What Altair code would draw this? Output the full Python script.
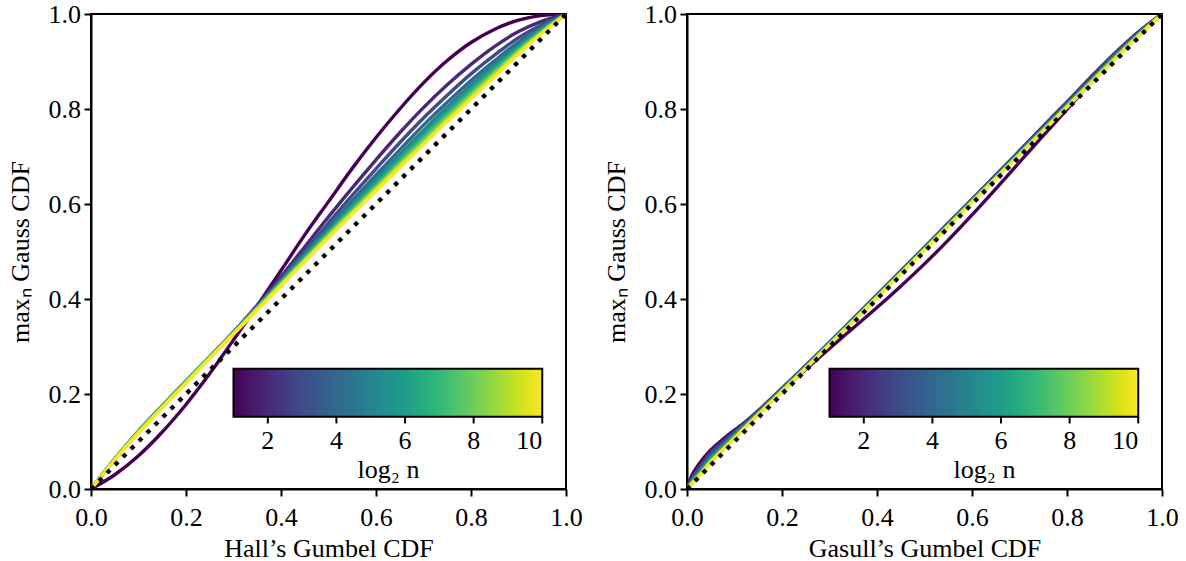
import altair as alt
import pandas as pd

# log2(n) for n = 2, 4, ..., 1024
log2n = [1, 2, 3, 4, 5, 6, 7, 8, 9, 10]

# ---- Left panel: Hall's Gumbel CDF (x) vs max_n Gauss CDF (y) ----
hall_x = [0, .05, .1, .15, .2, .25, .3, .35, .4, .45, .5, .55, .6, .65, .7, .75, .8, .85, .9, .95, 1]
hall_n2 = [0, .030, .070, .120, .178, .243, .314, .386, .460, .535, .605, .675, .740, .800, .855, .902, .940, .968, .987, .997, 1]
hall_n4 = [0, .062, .120, .173, .225, .277, .330, .387, .447, .510, .573, .634, .693, .750, .803, .851, .894, .932, .963, .985, 1]
hall_n8 = [0, .063, .121, .174, .226, .278, .330, .385, .442, .501, .560, .618, .674, .729, .781, .829, .874, .914, .950, .978, 1]
hall_n16 = [0, .063, .122, .175, .227, .278, .330, .384, .439, .496, .552, .607, .661, .714, .766, .814, .860, .902, .941, .973, 1]
hall_n32 = [0, .063, .122, .175, .227, .278, .330, .383, .437, .492, .546, .600, .652, .704, .755, .804, .851, .895, .935, .970, 1]
hall_n64 = [0, .063, .121, .175, .227, .278, .329, .382, .435, .489, .542, .594, .645, .697, .747, .796, .843, .888, .930, .967, 1]
hall_n128 = [0, .063, .121, .174, .226, .277, .329, .381, .433, .486, .538, .589, .639, .690, .740, .789, .836, .882, .926, .965, 1]
hall_n256 = [0, .062, .120, .173, .225, .277, .328, .380, .432, .483, .535, .585, .635, .685, .734, .783, .831, .877, .922, .963, 1]
hall_n512 = [0, .062, .119, .172, .224, .276, .327, .379, .430, .481, .532, .582, .631, .681, .729, .778, .826, .873, .919, .961, 1]
hall_n1024 = [0, .061, .118, .171, .223, .275, .326, .377, .428, .479, .529, .579, .628, .677, .725, .774, .821, .869, .916, .960, 1]
hall_curves = [hall_n2, hall_n4, hall_n8, hall_n16, hall_n32,
               hall_n64, hall_n128, hall_n256, hall_n512, hall_n1024]

# ---- Right panel: Gasull's Gumbel CDF (x) vs max_n Gauss CDF (y) ----
gasull_x = [0, .01, .025, .05, .075, .1, .15, .2, .25, .3, .35, .4, .45, .5, .55, .6, .65, .7, .75, .8, .85, .9, .95, 1]
gasull_n2 = [0, .028, .052, .082, .104, .124, .162, .207, .252, .296, .339, .382, .427, .474, .524, .577, .632, .688, .744, .799, .856, .912, .961, 1]
gasull_n4 = [0, .022, .045, .078, .100, .121, .165, .212, .260, .309, .359, .409, .459, .509, .560, .610, .661, .712, .764, .815, .867, .917, .962, 1]
gasull_n8 = [0, .019, .041, .073, .096, .118, .163, .211, .259, .308, .358, .408, .458, .508, .558, .609, .659, .710, .761, .812, .863, .914, .960, 1]
gasull_n16 = [0, .017, .037, .068, .092, .115, .161, .210, .258, .307, .357, .407, .457, .507, .557, .608, .658, .709, .759, .810, .861, .912, .958, 1]
gasull_n32 = [0, .015, .034, .065, .089, .113, .160, .209, .257, .306, .356, .406, .456, .506, .556, .607, .657, .707, .758, .809, .859, .910, .957, 1]
gasull_n64 = [0, .014, .032, .062, .087, .111, .159, .208, .256, .306, .355, .405, .455, .505, .556, .606, .656, .706, .757, .807, .858, .908, .956, 1]
gasull_n128 = [0, .013, .030, .060, .085, .110, .158, .207, .256, .305, .355, .405, .455, .505, .555, .605, .655, .706, .756, .806, .857, .907, .955, 1]
gasull_n256 = [0, .012, .029, .058, .083, .108, .157, .206, .255, .305, .354, .404, .454, .504, .554, .605, .655, .705, .755, .805, .856, .906, .954, 1]
gasull_n512 = [0, .011, .028, .057, .082, .107, .157, .206, .255, .304, .354, .404, .454, .504, .554, .604, .654, .704, .755, .805, .855, .905, .954, 1]
gasull_n1024 = [0, .011, .027, .056, .081, .106, .156, .205, .254, .304, .353, .403, .453, .503, .553, .603, .654, .704, .754, .804, .854, .904, .953, 1]
gasull_curves = [gasull_n2, gasull_n4, gasull_n8, gasull_n16, gasull_n32,
                 gasull_n64, gasull_n128, gasull_n256, gasull_n512, gasull_n1024]

# reference diagonal y = x
diag_x = [0, 1]
diag_y = [0, 1]

# axis tick values
ticks = [0.0, 0.2, 0.4, 0.6, 0.8, 1.0]
cbar_ticks = [2, 4, 6, 8, 10]

FONT = "Liberation Serif"
FS = 26
W = H = 475

# inset colorbar box, in axes fractions
CB_X0, CB_X1 = 0.30, 0.95
CB_Y0, CB_Y1 = 0.152, 0.253
CB_TICK = 0.014  # tick length below the bar


def curves_frame(xs, curves):
    rows = []
    for k, ys in zip(log2n, curves):
        for i, (xv, yv) in enumerate(zip(xs, ys)):
            rows.append({"log2n": k, "x": xv, "y": yv, "i": i})
    return pd.DataFrame(rows)


diag_df = pd.DataFrame({"x": diag_x, "y": diag_y})
cbar_df = pd.DataFrame({"v": cbar_ticks})


def panel(df, xtitle):
    xscale = alt.Scale(domain=[0, 1], nice=False, zero=False)
    yscale = alt.Scale(domain=[0, 1], nice=False, zero=False)
    xaxis = alt.Axis(values=ticks, format=".1f", title=xtitle, grid=False,
                     labelFlush=False)
    yaxis = alt.Axis(values=ticks, format=".1f", title="maxₙ Gauss CDF",
                     grid=False, labelFlush=False)

    lines = alt.Chart(df).mark_line(
        strokeWidth=3.4, clip=True, interpolate="monotone"
    ).encode(
        x=alt.X("x:Q", scale=xscale, axis=xaxis),
        y=alt.Y("y:Q", scale=yscale, axis=yaxis),
        color=alt.Color(
            "log2n:Q",
            scale=alt.Scale(scheme="viridis", domain=[1, 10]),
            legend=alt.Legend(
                orient="none",
                legendX=CB_X0 * W,
                legendY=(1 - CB_Y1) * H,
                direction="horizontal",
                gradientLength=(CB_X1 - CB_X0) * W,
                gradientThickness=(CB_Y1 - CB_Y0) * H,
                gradientStrokeColor="black",
                gradientStrokeWidth=2,
                values=cbar_ticks,
                labelAlign="center",
                labelFont=FONT,
                labelFontSize=FS,
                labelColor="black",
                labelOffset=11,
                title="log₂ n",
                titleOrient="bottom",
                titleAnchor="middle",
                titleFont=FONT,
                titleFontSize=FS,
                titleFontWeight="normal",
                titleColor="black",
                titlePadding=3,
                padding=0,
            ),
        ),
        detail="log2n:N",
        order="i:Q",
    )

    diag = alt.Chart(diag_df).mark_line(
        color="black", strokeWidth=4.3, strokeDash=[4.3, 7], clip=True
    ).encode(x=alt.X("x:Q", scale=xscale), y=alt.Y("y:Q", scale=yscale))

    # tick marks under the inset colorbar
    cbar_ticks_layer = alt.Chart(cbar_df).transform_calculate(
        cx=f"{CB_X0} + {CB_X1 - CB_X0} * (datum.v - 1) / 9",
        ty0=f"{CB_Y0}",
        ty1=f"{CB_Y0 - CB_TICK}",
    ).mark_rule(color="black", strokeWidth=2).encode(
        x=alt.X("cx:Q", scale=xscale),
        y=alt.Y("ty0:Q", scale=yscale),
        y2="ty1:Q",
    )

    return alt.layer(lines, diag, cbar_ticks_layer).properties(width=W, height=H)


left = panel(curves_frame(hall_x, hall_curves), "Hall’s Gumbel CDF")
right = panel(curves_frame(gasull_x, gasull_curves), "Gasull’s Gumbel CDF")

chart = (
    alt.hconcat(left, right, spacing=18)
    .resolve_scale(color="independent")
    .resolve_legend(color="independent")
    .properties(
        padding={"left": 6, "top": 0, "right": 5, "bottom": 5},
        background="white",
    )
    .configure_view(stroke="black", strokeWidth=2)
    .configure_axis(
        domainColor="black",
        domainWidth=2,
        tickColor="black",
        tickWidth=2,
        tickSize=7,
        labelFont=FONT,
        labelFontSize=FS,
        labelColor="black",
        titleFont=FONT,
        titleFontSize=FS,
        titleFontWeight="normal",
        titleColor="black",
    )
    .configure_axisY(titlePadding=14.5, labelPadding=3.5)
    .configure_axisX(titlePadding=5, labelPadding=8)
)

chart.save("out.html", embed_options={"renderer": "svg", "actions": False})
